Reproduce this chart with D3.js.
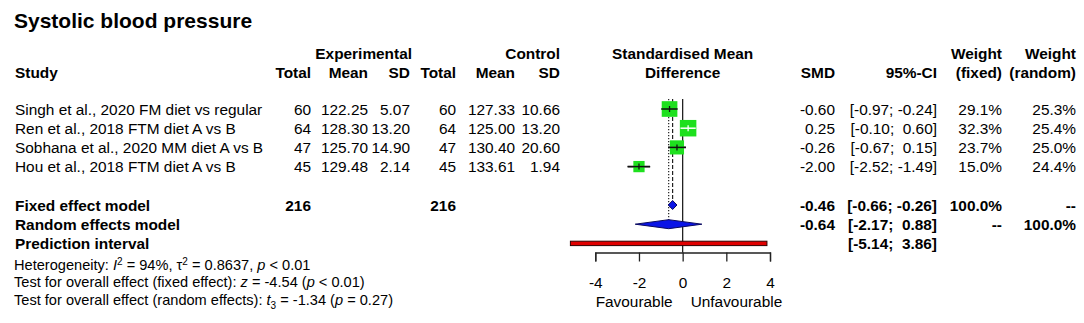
<!DOCTYPE html>
<html>
<head>
<meta charset="utf-8">
<script src="https://cdn.jsdelivr.net/npm/d3@7"></script>
<style>
  body { margin: 0; background: #fff; }
  text { font-family: Arial, "Liberation Sans", sans-serif; fill: #000; white-space: pre; }
</style>
</head>
<body>
<div id="plot"></div>
<script>
var w = 1084;
var h = 323;

// study data
var studies = ["Singh et al., 2020 FM diet vs regular", "Ren et al., 2018 FTM diet A vs B",
               "Sobhana et al., 2020 MM diet A vs B", "Hou et al., 2018 FTM diet A vs B"];
var expTotal = [60, 64, 47, 45];
var expMean = ["122.25", "128.30", "125.70", "129.48"];
var expSD = ["5.07", "13.20", "14.90", "2.14"];
var ctrlTotal = [60, 64, 47, 45];
var ctrlMean = ["127.33", "125.00", "130.40", "133.61"];
var ctrlSD = ["10.66", "13.20", "20.60", "1.94"];
var smd = [-0.60, 0.25, -0.26, -2.00];
var ciLow = [-0.97, -0.10, -0.67, -2.52];
var ciHigh = [-0.24, 0.60, 0.15, -1.49];
var wFixed = [29.1, 32.3, 23.7, 15.0];
var wRandom = [25.3, 25.4, 25.0, 24.4];

// pooled results
var fixedEst = [-0.46, -0.66, -0.26];
var randomEst = [-0.64, -2.17, 0.88];
var predInt = [-5.14, 3.86];
var totals = [216, 216];
var ticks = [-4, -2, 0, 2, 4];

function fmt(v) { return v.toFixed(2); }
function fmtCI(a, b) {
  return "[" + fmt(a) + "; " + (b < 0 ? "" : " ") + fmt(b) + "]";
}
function pct(v) { return v.toFixed(1) + "%"; }

var svg = d3.select("#plot").append("svg")
  .attr("width", w).attr("height", h);

var x = d3.scaleLinear().domain([-4, 4]).range([595.3, 770]);
var rowY = function(i) { return 109 + 19.2 * i; };
var size = d3.scaleSqrt().domain([0, d3.max(wFixed)]).range([0, 16.5]);
var fs = 15.4;

// title
svg.append("text").attr("x", 14).attr("y", 20).attr("dy", "0.36em")
   .attr("font-size", 21).attr("font-weight", "bold").text("Systolic blood pressure");

var col = { study: 15, eT: 311, eM: 368, eS: 410, cT: 456, cM: 515, cS: 560,
            smd: 835, ci: 937, wf: 1002, wr: 1076 };
function txt(xp, yp, s, anchor, bold, size) {
  return svg.append("text").attr("x", xp).attr("y", yp).attr("dy", "0.36em")
    .attr("text-anchor", anchor || "start")
    .attr("font-weight", bold ? "bold" : "normal")
    .attr("font-size", size || fs).text(s);
}

// header
var h1 = 53, h2 = 72;
txt(col.eS + 2, h1, "Experimental", "end", true);
txt(col.cS, h1, "Control", "end", true);
txt(x(0), h1, "Standardised Mean", "middle", true);
txt(x(0), h2, "Difference", "middle", true);
txt(col.wf, h1, "Weight", "end", true);
txt(col.wr, h1, "Weight", "end", true);
txt(col.study, h2, "Study", "start", true);
txt(col.eT, h2, "Total", "end", true);
txt(col.eM, h2, "Mean", "end", true);
txt(col.eS, h2, "SD", "end", true);
txt(col.cT, h2, "Total", "end", true);
txt(col.cM, h2, "Mean", "end", true);
txt(col.cS, h2, "SD", "end", true);
txt(col.smd, h2, "SMD", "end", true);
txt(col.ci, h2, "95%-CI", "end", true);
txt(col.wf, h2, "(fixed)", "end", true);
txt(col.wr, h2, "(random)", "end", true);

// study rows
studies.forEach(function(s, i) {
  var y = rowY(i);
  txt(col.study, y, s);
  txt(col.eT, y, expTotal[i], "end");
  txt(col.eM, y, expMean[i], "end");
  txt(col.eS, y, expSD[i], "end");
  txt(col.cT, y, ctrlTotal[i], "end");
  txt(col.cM, y, ctrlMean[i], "end");
  txt(col.cS, y, ctrlSD[i], "end");
  txt(col.smd, y, fmt(smd[i]), "end");
  txt(col.ci, y, fmtCI(ciLow[i], ciHigh[i]), "end");
  txt(col.wf, y, pct(wFixed[i]), "end");
  txt(col.wr, y, pct(wRandom[i]), "end");
});

// pooled rows
var yF = rowY(5), yR = rowY(6), yP = rowY(7);
txt(col.study, yF, "Fixed effect model", "start", true);
txt(col.study, yR, "Random effects model", "start", true);
txt(col.study, yP, "Prediction interval", "start", true);
txt(col.eT, yF, totals[0], "end", true);
txt(col.cT, yF, totals[1], "end", true);
txt(col.smd, yF, fmt(fixedEst[0]), "end", true);
txt(col.ci, yF, fmtCI(fixedEst[1], fixedEst[2]), "end", true);
txt(col.wf, yF, "100.0%", "end", true);
txt(col.wr, yF, "--", "end", true);
txt(col.smd, yR, fmt(randomEst[0]), "end", true);
txt(col.ci, yR, fmtCI(randomEst[1], randomEst[2]), "end", true);
txt(col.wf, yR, "--", "end", true);
txt(col.wr, yR, "100.0%", "end", true);
txt(col.ci, yP, fmtCI(predInt[0], predInt[1]), "end", true);

// reference lines
var lineTop = 99, axisY = 252.5;
svg.append("line").attr("x1", x(0)).attr("x2", x(0)).attr("y1", lineTop).attr("y2", axisY)
   .attr("stroke", "#222").attr("stroke-width", 1.3);
svg.append("line").attr("x1", x(fixedEst[0])).attr("x2", x(fixedEst[0]))
   .attr("y1", lineTop).attr("y2", yF - 4)
   .attr("stroke", "#222").attr("stroke-width", 1.2).attr("stroke-dasharray", "4,2");
svg.append("line").attr("x1", x(randomEst[0])).attr("x2", x(randomEst[0]))
   .attr("y1", lineTop).attr("y2", yR - 4)
   .attr("stroke", "#222").attr("stroke-width", 1.2).attr("stroke-dasharray", "1.3,1.7");

// CIs and squares
var g = svg.append("g");
studies.forEach(function(s, i) {
  var y = rowY(i), sd = size(wFixed[i]), cx = x(smd[i]);
  var inside = x(ciLow[i]) >= cx - sd / 2 && x(ciHigh[i]) <= cx + sd / 2;
  if (!inside) {
    g.append("line").attr("x1", x(ciLow[i])).attr("x2", x(ciHigh[i]))
     .attr("y1", y).attr("y2", y).attr("stroke", "#111").attr("stroke-width", 1.5);
  }
  g.append("rect").attr("x", cx - sd / 2).attr("y", y - sd / 2)
   .attr("width", sd).attr("height", sd).attr("fill", "#1ee01e");
  var c = inside ? "#fff" : "#111";
  g.append("line").attr("x1", x(ciLow[i])).attr("x2", x(ciHigh[i]))
   .attr("y1", y).attr("y2", y).attr("stroke", c).attr("stroke-width", 1.5);
  g.append("line").attr("x1", cx).attr("x2", cx).attr("y1", y - 3).attr("y2", y + 3)
   .attr("stroke", c).attr("stroke-width", 1.3);
});

// diamonds
function diamond(est, y, hh) {
  var pts = [[x(est[1]), y], [x(est[0]), y - hh], [x(est[2]), y], [x(est[0]), y + hh]];
  svg.append("path").attr("d", d3.line()(pts) + "Z")
     .attr("fill", "#0a14e6").attr("stroke", "#0a0a60").attr("stroke-width", 1)
     .attr("stroke-linejoin", "round");
}
diamond(fixedEst, yF, 4.5);
diamond(randomEst, yR, 4.5);

// prediction interval
svg.append("rect").attr("x", x(predInt[0])).attr("y", yP - 2.2)
   .attr("width", x(predInt[1]) - x(predInt[0])).attr("height", 4.4)
   .attr("fill", "#e00000").attr("stroke", "#300").attr("stroke-width", 1);

// axis
var axis = svg.append("g").attr("transform", "translate(0," + axisY + ")")
  .call(d3.axisBottom(x).tickValues(ticks).tickSize(9).tickPadding(16)
          .tickFormat(function(d) { return String(d); }));
axis.selectAll("path, line").attr("stroke", "#222").attr("stroke-width", 1.3);
axis.selectAll("text").attr("font-size", fs).attr("fill", "#000")
    .attr("font-family", "Arial, 'Liberation Sans', sans-serif");
txt(x(0) - 10, 301.5, "Favourable", "end");
txt(x(0) + 8, 301.5, "Unfavourable", "start");

// heterogeneity and tests
var bs = 14.6;
var b1 = svg.append("text").attr("x", 14).attr("y", 265).attr("dy", "0.36em").attr("font-size", bs);
b1.append("tspan").text("Heterogeneity: ");
b1.append("tspan").attr("font-style", "italic").text("I");
b1.append("tspan").attr("font-size", 10).attr("dy", -5).text("2");
b1.append("tspan").attr("dy", 5).text(" = 94%, \u03c4");
b1.append("tspan").attr("font-size", 10).attr("dy", -5).text("2");
b1.append("tspan").attr("dy", 5).text(" = 0.8637, ");
b1.append("tspan").attr("font-style", "italic").text("p");
b1.append("tspan").text(" < 0.01");

var b2 = svg.append("text").attr("x", 14).attr("y", 282).attr("dy", "0.36em").attr("font-size", bs);
b2.append("tspan").text("Test for overall effect (fixed effect): ");
b2.append("tspan").attr("font-style", "italic").text("z");
b2.append("tspan").text(" = -4.54 (");
b2.append("tspan").attr("font-style", "italic").text("p");
b2.append("tspan").text(" < 0.01)");

var b3 = svg.append("text").attr("x", 14).attr("y", 299.5).attr("dy", "0.36em").attr("font-size", bs);
b3.append("tspan").text("Test for overall effect (random effects): ");
b3.append("tspan").attr("font-style", "italic").text("t");
b3.append("tspan").attr("font-size", 10).attr("dy", 4).text("3");
b3.append("tspan").attr("dy", -4).text(" = -1.34 (");
b3.append("tspan").attr("font-style", "italic").text("p");
b3.append("tspan").text(" = 0.27)");
</script>
</body>
</html>
